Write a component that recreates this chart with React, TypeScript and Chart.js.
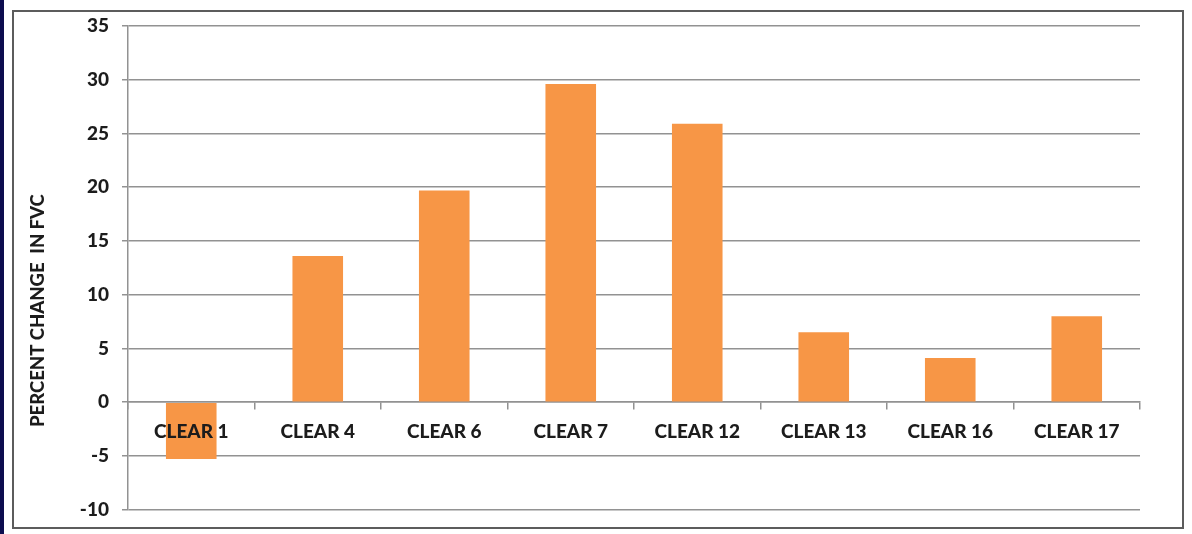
import React, { useEffect, useRef } from "react";
import { Chart, registerables } from "chart.js";

Chart.register(...registerables);

// Trial names and their percent change in forced vital capacity
const categories = [
  "CLEAR 1",
  "CLEAR 4",
  "CLEAR 6",
  "CLEAR 7",
  "CLEAR 12",
  "CLEAR 13",
  "CLEAR 16",
  "CLEAR 17",
];
const fvcChange = [-5.3, 13.6, 19.7, 29.6, 25.9, 6.5, 4.1, 8.0];

// Value axis range and step
const yMin = -10;
const yMax = 35;
const yStep = 5;
const yTitle = "PERCENT CHANGE  IN FVC";

const FONT = "Lato, 'Open Sans', sans-serif";
const TEXT = "#1c1c1c";
const GRID = "#929292";
const BAR = "#F79646";

// Rotated axis title, reading bottom to top beside the tick labels
const yTitlePlugin = {
  id: "yTitleText",
  afterDraw(chart: any) {
    const { ctx } = chart;
    ctx.save();
    ctx.translate(38, 427);
    ctx.rotate(-Math.PI / 2);
    ctx.font = `900 18.5px ${FONT}`;
    ctx.fillStyle = TEXT;
    ctx.textAlign = "left";
    ctx.textBaseline = "middle";
    ctx.fillText(yTitle, 0, 0);
    ctx.restore();
  },
};

export default function App() {
  const canvasRef = useRef<HTMLCanvasElement | null>(null);

  useEffect(() => {
    if (!canvasRef.current) return;
    const chart = new Chart(canvasRef.current, {
      type: "bar",
      data: {
        labels: categories,
        datasets: [
          {
            data: fvcChange,
            backgroundColor: BAR,
            borderWidth: 0,
            categoryPercentage: 1,
            barPercentage: 0.4,
          },
        ],
      },
      options: {
        responsive: false,
        animation: false,
        layout: { padding: { left: 0, top: 26, right: 52, bottom: 24 } },
        plugins: {
          legend: { display: false },
          tooltip: { enabled: false },
        },
        scales: {
          x: {
            position: { y: 0 } as any,
            grid: {
              display: true,
              drawOnChartArea: false,
              drawTicks: true,
              tickLength: 7,
              color: GRID,
              lineWidth: 1.5,
              offset: true,
            },
            border: { display: true, color: GRID, width: 1.5 },
            ticks: {
              z: 1,
              color: TEXT,
              font: { family: FONT, size: 19, weight: "900" as any },
              padding: 11,
              maxRotation: 0,
              autoSkip: false,
            },
          },
          y: {
            min: yMin,
            max: yMax,
            ticks: {
              stepSize: yStep,
              color: TEXT,
              font: { family: FONT, size: 19, weight: "900" as any },
              padding: 13,
            },
            grid: {
              color: GRID,
              lineWidth: 1.5,
              tickLength: 6,
            },
            border: { display: true, color: GRID, width: 1.5 },
            afterFit(scale: any) {
              scale.width = 128;
            },
          },
        },
      },
      plugins: [yTitlePlugin],
    });
    return () => chart.destroy();
  }, []);

  return (
    <div style={{ position: "absolute", left: 0, top: 0, width: 1192, height: 534, background: "#fff" }}>
      <div style={{ position: "absolute", left: 0, top: 0, width: 4, height: 534, background: "#0d0d4f" }} />
      <div
        style={{
          position: "absolute",
          left: 12,
          top: 10,
          width: 1172,
          height: 519,
          border: "2px solid #5c5c5c",
          boxSizing: "border-box",
        }}
      />
      <canvas
        ref={canvasRef}
        width={1192}
        height={534}
        style={{ position: "absolute", left: 0, top: 0 }}
      />
    </div>
  );
}
